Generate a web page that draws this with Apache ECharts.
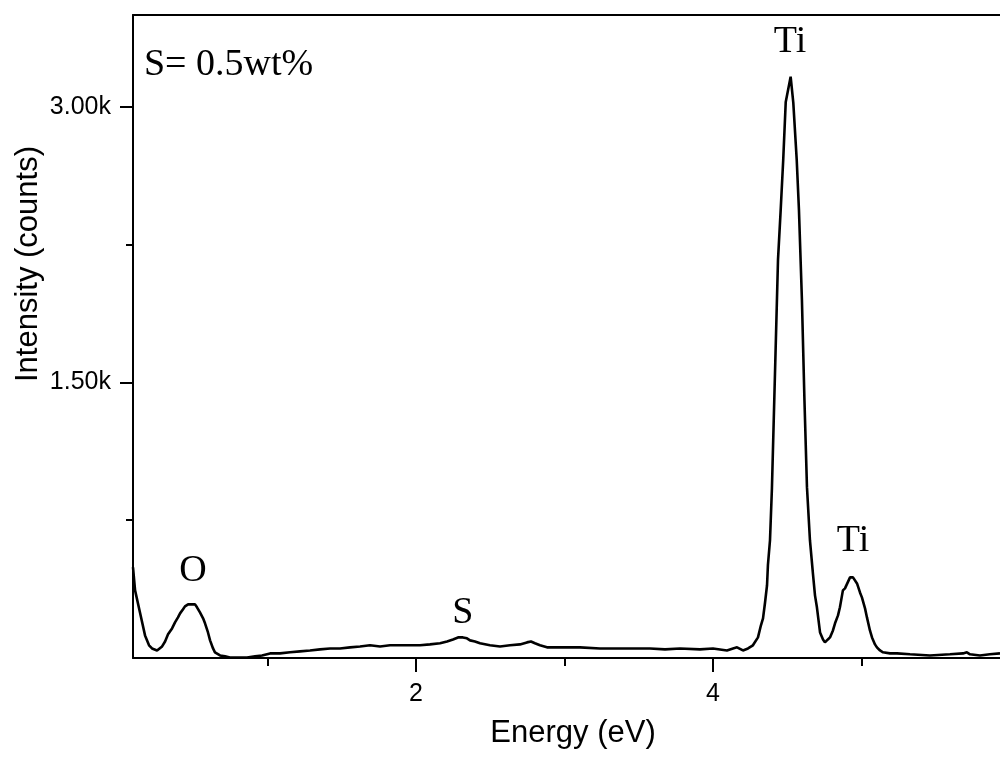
<!DOCTYPE html>
<html>
<head>
<meta charset="utf-8">
<script src="https://cdn.jsdelivr.net/npm/echarts@6/dist/echarts.min.js"></script>
<style>html,body{margin:0;padding:0;background:#fff}#c{width:1000px;height:758px}</style>
</head>
<body>
<div id="c"></div>
<script>
// Energy (eV) values
const energy = [0.094,0.108,0.141,0.175,0.202,0.222,0.256,0.290,0.310,0.330,0.357,0.377,0.397,0.411,0.431,0.444,0.465,0.478,0.498,0.512,0.525,0.545,0.566,0.579,0.599,0.613,0.633,0.646,0.680,0.714,0.747,0.815,0.862,0.916,0.963,1.017,1.084,1.152,1.219,1.286,1.354,1.421,1.488,1.556,1.623,1.690,1.758,1.825,1.892,1.960,2.027,2.094,2.162,2.209,2.249,2.283,2.316,2.343,2.364,2.397,2.431,2.498,2.566,2.633,2.700,2.747,2.774,2.801,2.835,2.882,2.970,3.104,3.239,3.327,3.441,3.576,3.677,3.778,3.912,4.000,4.094,4.135,4.162,4.202,4.236,4.269,4.303,4.323,4.337,4.350,4.364,4.370,4.384,4.397,4.418,4.438,4.456,4.473,4.490,4.523,4.541,4.564,4.579,4.599,4.616,4.633,4.653,4.673,4.687,4.700,4.721,4.741,4.754,4.774,4.788,4.808,4.822,4.842,4.855,4.875,4.889,4.902,4.923,4.943,4.970,4.990,5.003,5.024,5.037,5.057,5.071,5.091,5.104,5.125,5.145,5.192,5.239,5.327,5.461,5.596,5.684,5.710,5.731,5.798,5.865,5.933];
// Intensity (counts)
const counts = [494,368,248,123,69,52,41,63,90,129,161,194,221,243,265,281,292,298,292,292,276,248,216,189,139,96,52,31,14,9,3,3,3,9,14,25,25,31,36,41,47,52,52,58,63,69,63,69,69,69,69,74,80,90,101,112,112,107,96,90,80,69,63,69,74,85,90,80,69,58,58,58,52,52,52,52,47,52,47,52,41,52,58,41,52,69,112,178,216,298,396,505,641,924,1562,2170,2439,2711,3027,3164,3022,2711,2439,1949,1404,930,641,461,341,276,139,101,85,101,112,150,189,232,276,368,379,385,439,439,406,357,330,270,221,150,112,74,58,41,31,25,25,20,14,20,25,31,20,14,20,25];

// Peak annotations
const peakNames = ['Ti','Ti','O','S'];
const peakE = [4.519,4.943,0.498,2.316];
const peakI = [3354,638,475,243];
const noteText = 'S= 0.5wt%';
const noteE = 0.168, noteI = 3226;

// Axis ticks
const yMajor = [1500,3000];
const yMinor = [750,2250];
const xMajor = [2,4];
const xMinor = [1,3,5];

const chart = echarts.init(document.getElementById('c'), null, {renderer:'canvas'});
const data = energy.map((e,i)=>[e,counts[i]]);
const serif = 'Liberation Serif';
const sans = 'Liberation Sans';
const axisLine = {show:true, lineStyle:{color:'#000', width:2}};

const mp = peakNames.map((n,i)=>({name:n, coord:[peakE[i],peakI[i]]}));
mp.push({name:noteText, coord:[noteE,noteI], label:{align:'left'}});

chart.setOption({
  animation:false,
  backgroundColor:'#fff',
  grid:{left:133, right:0, top:15, bottom:100},
  xAxis:[
    {type:'value', min:0.094, max:5.933, position:'bottom',
     axisLine:axisLine, splitLine:{show:false},
     axisTick:{show:true, customValues:xMajor, length:14, inside:false, lineStyle:{color:'#000',width:2}},
     axisLabel:{show:true, customValues:xMajor, margin:24, color:'#000', fontFamily:sans, fontSize:25, formatter:v=>String(Math.round(v))}},
    {type:'value', min:0.094, max:5.933, position:'bottom',
     axisLine:{show:false}, splitLine:{show:false},
     axisTick:{show:true, customValues:xMinor, length:8, lineStyle:{color:'#000',width:2}},
     axisLabel:{show:false}},
    {type:'value', min:0.094, max:5.933, position:'top',
     axisLine:axisLine, splitLine:{show:false}, axisTick:{show:false}, axisLabel:{show:false}}
  ],
  yAxis:[
    {type:'value', min:0, max:3500, position:'left',
     axisLine:axisLine, splitLine:{show:false},
     axisTick:{show:true, customValues:yMajor, length:13, lineStyle:{color:'#000',width:2}},
     axisLabel:{show:true, customValues:yMajor, margin:22, color:'#000', fontFamily:sans, fontSize:25, formatter:v=>(v/1000).toFixed(2)+'k'}},
    {type:'value', min:0, max:3500, position:'left',
     axisLine:{show:false}, splitLine:{show:false},
     axisTick:{show:true, customValues:yMinor, length:7, lineStyle:{color:'#000',width:2}},
     axisLabel:{show:false}}
  ],
  graphic:[
    {type:'text', x:573, y:733, style:{text:'Energy (eV)', fontFamily:sans, fontSize:31, fill:'#000', align:'center', verticalAlign:'middle'}},
    {type:'text', rotation:Math.PI/2, x:28, y:264, style:{text:'Intensity (counts)', fontFamily:sans, fontSize:31, fill:'#000', align:'center', verticalAlign:'middle'}}
  ],
  series:[{
    type:'line', data:data, xAxisIndex:0, yAxisIndex:0,
    showSymbol:false, symbol:'none',
    lineStyle:{color:'#000', width:2.6}, itemStyle:{color:'#000'},
    markPoint:{symbol:'circle', symbolSize:0, silent:true,
      label:{show:true, position:'inside', formatter:'{b}', color:'#000', fontFamily:serif, fontSize:38},
      data:mp}
  }]
});
</script>
</body>
</html>
